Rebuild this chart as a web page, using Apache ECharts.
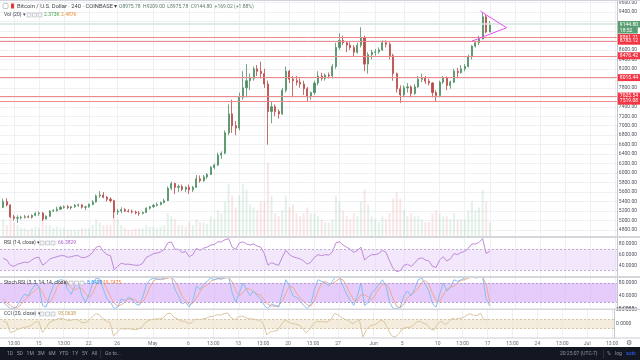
<!DOCTYPE html>
<html><head><meta charset="utf-8">
<script src="https://cdn.jsdelivr.net/npm/echarts@6/dist/echarts.min.js"></script>
<style>html,body{margin:0;padding:0;background:#fff}#c{width:640px;height:360px}</style>
</head><body><div id="c"></div>
<script>
// ---- data (12h candles, x = days since May 1) ----
const dayStart = -21, dayStep = 0.5;
const opens = [5280,5400,5330,5080,5050,5060,5070,5080,5070,5110,
5150,5160,5030,5090,5200,5210,5240,5280,5290,5270,
5290,5320,5330,5280,5290,5340,5390,5520,5540,5490,
5450,5420,5180,5200,5230,5200,5190,5180,5160,5150,
5170,5260,5290,5320,5340,5380,5420,5680,5780,5700,
5720,5660,5700,5650,5700,5880,5840,5920,5970,6120,
6170,6380,6420,6850,7250,7000,6950,7600,7800,7950,
8000,8200,8150,8100,7880,7300,7400,7300,7250,7750,
8150,7980,7950,7920,7880,7780,7620,7700,7900,8050,
8000,8070,8050,8250,8650,8800,8750,8700,8650,8550,
8700,8850,8300,8500,8550,8560,8600,8750,8720,8480,
8100,7780,7650,7800,7820,7680,7820,7980,8000,7940,
7900,7700,7640,7920,8000,7850,7920,8150,8120,8200,
8250,8450,8680,8750,8830,9300,8975.78];
const highs = [5460,5470,5340,5120,5110,5100,5120,5110,5130,5180,
5190,5180,5110,5220,5240,5290,5310,5320,5330,5310,
5350,5360,5350,5310,5360,5430,5550,5620,5600,5520,
5490,5440,5240,5280,5260,5240,5230,5210,5200,5190,
5280,5310,5350,5380,5400,5460,5720,5820,5800,5760,
5760,5720,5760,5730,5960,5950,5960,6000,6150,6200,
6430,6460,6900,7450,7550,7100,7700,8150,8300,8100,
8250,8280,8350,8200,7950,7500,7450,7350,7800,8250,
8180,8050,8050,8000,7950,7820,7720,7950,8150,8120,
8100,8120,8300,8750,8950,8900,8780,8760,8700,8750,
9080,8900,8550,8600,8620,8650,8800,8800,8760,8520,
8120,7850,7850,7900,7850,7880,8050,8100,8050,7990,
7920,7750,7950,8050,8040,7950,8200,8220,8280,8300,
8500,8700,8780,8900,9390,9340,9209];
const lows = [5260,5300,5050,5000,4950,5020,5040,5050,5040,5090,
5100,4990,5020,5080,5180,5190,5220,5250,5240,5230,
5270,5290,5250,5220,5270,5320,5380,5480,5470,5400,
5380,5050,5120,5150,5180,5170,5150,5130,5100,5130,
5160,5230,5270,5300,5320,5360,5410,5640,5560,5600,
5620,5600,5560,5600,5690,5800,5820,5880,5960,6080,
6150,6300,6400,6800,6850,6800,6900,7550,7600,7750,
7950,8050,8000,7800,6600,7050,7200,7150,7230,7700,
7900,7600,7850,7800,7650,7520,7550,7650,7850,7950,
7950,8000,8000,8200,8600,8700,8550,8600,8450,8520,
8650,8150,8100,8400,8480,8520,8580,8650,8400,7950,
7700,7480,7600,7700,7600,7650,7800,7920,7880,7850,
7600,7520,7600,7880,7750,7780,7900,8000,8100,8150,
8230,8400,8650,8700,8820,8950,8975.78];
const closes = [5400,5330,5080,5050,5060,5070,5080,5070,5110,5150,
5160,5030,5090,5200,5210,5240,5280,5290,5270,5290,
5320,5330,5280,5290,5340,5390,5520,5540,5490,5450,
5420,5180,5200,5230,5200,5190,5180,5160,5150,5170,
5260,5290,5320,5340,5380,5420,5680,5780,5700,5720,
5660,5700,5650,5700,5880,5840,5920,5970,6120,6170,
6380,6420,6850,7250,7000,6950,7600,7800,7950,8000,
8200,8150,8100,7880,7300,7400,7300,7250,7750,8150,
7980,7950,7920,7880,7780,7620,7700,7900,8050,8000,
8070,8050,8250,8650,8800,8750,8700,8650,8550,8700,
8850,8300,8500,8550,8560,8600,8750,8720,8480,8100,
7780,7650,7800,7820,7680,7820,7980,8000,7940,7900,
7700,7640,7920,8000,7850,7920,8150,8120,8200,8250,
8450,8680,8750,8830,9300,8975.78,9144.80];
const volumes = [6,4,8,5,4,3,3,2.5,3,3.5,
3,6,4,4,3,3.5,3,3,2.5,2.5,
2.5,2.5,3,3,3,4,6,5,4,4,
4,10,6,4,3,2.5,2.5,3,3,3,
4,3.5,3.5,3,3.5,4,8,7,6,4,
4,3.5,5,4,6,5,5,4.5,7,6,
9,8,12,18,14,10,14,18,16,11,
10,9,12,12,25,14,8,7,9,14,
10,11,8,7,8,10,8,8,7,6,
5,5,6,14,12,9,7,6,8,7,
12,16,11,7,6,5,7,6,8,13,
15,13,9,7,8,7,7,6,5,5,
8,9,8,7,7,6,8,6,6,6,
9,12,9,10,16,12,5];
const rsi = [53,50,40,38,42,44,46,45,50,54,
55,40,45,52,54,56,58,58,55,56,
58,58,54,55,58,64,74,76,66,60,
58,32,38,44,42,42,41,40,40,44,
55,58,62,63,65,70,82,84,70,70,
64,66,56,60,72,68,72,74,78,79,
84,84,88,90,74,70,82,84,80,78,
80,76,74,62,40,45,42,40,55,68,
60,56,54,52,48,42,46,55,60,58,
60,59,65,82,84,78,74,70,64,68,
74,50,56,60,60,62,68,64,48,34,
28,30,40,42,38,44,52,54,50,48,
38,36,50,56,48,52,62,60,64,66,
72,80,80,83,90,62,66.38];
const stochK = [20,10,0,0,10,30,45,40,60,75,
70,10,5,40,70,85,90,88,60,45,
70,80,40,20,45,80,95,92,60,30,
20,0,5,30,25,35,30,15,10,35,
75,90,95,92,90,95,100,98,60,40,
15,20,5,25,70,60,75,85,95,90,
95,92,98,100,50,20,50,80,60,40,
55,40,30,10,0,15,10,5,50,90,
70,40,35,25,10,0,15,60,90,85,
80,70,85,100,98,70,45,25,10,40,
80,10,20,50,60,75,90,70,20,0,
0,5,40,55,40,60,90,95,75,55,
15,5,45,80,55,65,90,85,90,95,
100,100,95,98,100,30,8.84];
const stochD = [30,18,10,3,3,13,28,38,48,58,
68,52,28,18,38,65,82,88,79,64,
58,65,63,47,35,48,73,89,82,61,
37,17,8,12,20,30,30,27,18,20,
40,67,87,92,92,92,95,98,86,66,
38,25,13,17,33,52,68,73,85,90,
93,92,95,97,83,57,40,50,63,60,
52,45,42,27,13,8,8,10,22,48,
70,67,48,33,23,12,8,25,55,78,
85,78,78,85,94,89,71,47,27,25,
43,43,37,27,43,62,75,78,60,30,
7,2,15,33,45,52,63,82,87,75,
48,25,22,43,60,67,70,80,88,90,
95,98,98,98,98,76,19.75];
const cci = [60,40,-180,-160,-120,-90,-70,-60,-20,40,
50,-180,-90,40,70,100,120,110,80,80,
100,90,30,30,80,150,220,200,110,60,
30,-260,-170,-100,-110,-100,-110,-120,-110,-60,
40,80,100,110,110,130,220,230,140,110,
60,60,10,30,110,90,110,120,160,160,
200,190,220,240,130,90,150,170,140,110,
110,90,80,10,-230,-170,-150,-140,-30,80,
50,10,0,-20,-80,-190,-120,-10,60,50,
50,40,90,230,200,140,100,70,10,40,
100,-280,-120,-40,-20,10,80,50,-100,-250,
-280,-220,-110,-70,-80,-40,40,60,20,-10,
-110,-130,10,60,-10,30,120,100,120,130,
180,220,190,180,230,90,95.06];
const levels = [8861.21, 8783.12, 8476.42, 8015.44, 7625.54, 7519.08];
const lastPrice = 9144.80;
const countdown = '18:52';
const triDays = [45.7, 49.35, 44.5];
const triPrices = [9417, 9067, 8785];
const timeTickDays = [-19.5,-16,-12.5,-9,-5,0,5,8.5,12,15.5,19,22.5,26,31,35,40,43.5,47,50.5,54,57.5,61,64.5];
const timeTickLabels = ['13:00','15','13:00','22','26','May','6','13:00','13','13:00','20','13:00','27','Jun','5','10','13:00','17','13:00','24','13:00','Jul','13:00'];
const priceGridTicks = [4800,5000,5200,5400,5600,5800,6000,6200,6400,6600,6800,7000,7200,7400,7600,7800,8000,8200,8400,8600,8800,9000,9200,9400,9600];
const priceLabelTicks = [4800,5000,5200,5400,5600,5800,6000,6200,6400,6600,6800,7000,7200,7400,7800,8200,8400,8600,9400,9600];
const rsiTicks = [80,60,40];
const stochTicks = [80,40,0];
const cciTicks = [300,0];
const rsiBand = [70,30];
const stochBand = [80,20];
const cciBand = [100,-100];

// ---- chart ----
const FONT = 'Roboto, "Noto Sans", sans-serif';
const days = opens.map((_, i) => dayStart + i * dayStep);
const X_MIN = -21.45, X_MAX = 64.76;
const UP = '#4f8f63', DOWN = '#b94a48';

function tLabel(v){
  let best = 0, bd = 1e9;
  timeTickDays.forEach((d,i)=>{ const dd=Math.abs(d-v); if(dd<bd){bd=dd;best=i;} });
  return timeTickLabels[best];
}
function xAxisFor(gi, show){
  return {type:'value', gridIndex:gi, min:X_MIN, max:X_MAX,
    axisLine:{show:false, onZero:false},
    axisTick:{show:false, customValues:timeTickDays},
    axisLabel: show ? {show:true, customValues:timeTickDays, formatter:tLabel, fontSize:5, color:'#6a6d78', margin:3, fontFamily:FONT} : {show:false},
    splitLine:{show:true, lineStyle:{color:'#eef0f4', width:1}}};
}
function yAxisFor(gi, min, max, ticks, dec, split){
  return {type:'value', gridIndex:gi, position:'right', min:min, max:max,
    axisLine:{show:true, onZero:false, lineStyle:{color:'#c3c6cd', width:1}},
    axisTick:{show:false, customValues: split || ticks},
    axisLabel:{show:true, customValues:ticks, formatter:v=>v.toFixed(dec), fontSize:5, color:'#50535e', margin:2, fontFamily:FONT},
    splitLine:{show: !!split, lineStyle:{color:'#eef0f4', width:1}}};
}
function band(vals, fill, lineColor){
  return {
    markArea:{silent:true, itemStyle:{color:fill}, data:[[{yAxis:vals[0]},{yAxis:vals[1]}]]},
    markLine:{silent:true, symbol:['none','none'], label:{show:false},
      lineStyle:{color:lineColor, type:[2,2], width:1}, data:[{yAxis:vals[0]},{yAxis:vals[1]}]}
  };
}
const lvlLabel = {show:true, position:'end', distance:1, formatter:p=>p.value.toFixed(2),
  color:'#fff', backgroundColor:'#f23645', fontSize:5, padding:[1,2,0.5,2], lineHeight:5.5, fontFamily:FONT};

const chart = echarts.init(document.getElementById('c'), null, {renderer:'canvas'});
const rsiB = band(rsiBand, 'rgba(233,212,250,0.55)', '#c2aed3');
const stB = band(stochBand, 'rgba(214,170,246,0.6)', '#b79ccf');
const cciB = band(cciBand, 'rgba(240,230,208,0.7)', '#d3c6ad');

chart.setOption({
  animation:false,
  backgroundColor:'#ffffff',
  grid:[
    {left:0, right:21, top:0, height:237},
    {left:0, right:21, top:237, height:40},
    {left:0, right:21, top:277, height:32},
    {left:0, right:21, top:309, height:29}
  ],
  xAxis:[xAxisFor(0,false), xAxisFor(1,false), xAxisFor(2,false), xAxisFor(3,true)],
  yAxis:[
    yAxisFor(0, 4652.6, 9642.1, priceLabelTicks, 2, priceGridTicks),
    {type:'value', gridIndex:0, min:0, max:80, show:false, axisLine:{show:false, onZero:false}},
    yAxisFor(1, 18, 93.1, rsiTicks, 4),
    yAxisFor(2, -1, 98.5, stochTicks, 4),
    yAxisFor(3, -300, 321.4, cciTicks, 4)
  ],
  series:[
    {type:'bar', xAxisIndex:0, yAxisIndex:1, barWidth:2, z:1,
      data: days.map((d,i)=>[d, volumes[i]]),
      itemStyle:{color:p=> closes[p.dataIndex] >= opens[p.dataIndex] ? 'rgba(120,185,140,0.2)' : 'rgba(230,130,130,0.2)'}},
    {type:'candlestick', xAxisIndex:0, yAxisIndex:0, barWidth:1.6, z:3,
      data: days.map((d,i)=>[d, opens[i], closes[i], lows[i], highs[i]]),
      itemStyle:{color:UP, color0:DOWN, borderColor:UP, borderColor0:DOWN, borderWidth:0.8}},
    {type:'line', xAxisIndex:0, yAxisIndex:0, z:2, symbol:'none', silent:true, data:[],
      markLine:{silent:true, symbol:['none','none'], z:5, animation:false,
        data: levels.map(v=>({yAxis:v, lineStyle:{color:'#ef8a8c', width:1, type:'solid'}, label:lvlLabel}))
          .concat([{yAxis:lastPrice, lineStyle:{color:'#d6e5dc', width:1.5, type:'solid'},
            label:{show:true, position:'end', distance:1, offset:[0,3.2],
              formatter:'{a|'+lastPrice.toFixed(2)+'}\n{b|'+countdown+'}',
              rich:{a:{color:'#fff', backgroundColor:'#5a9e72', fontSize:5, padding:[1,2,0.5,2], lineHeight:6, fontFamily:FONT},
                    b:{color:'#fff', backgroundColor:'#5a9e72', fontSize:5, padding:[1,5.5,0.5,2], lineHeight:6, fontFamily:FONT}}}}])
      }},
    {type:'line', xAxisIndex:0, yAxisIndex:0, z:6, symbol:'none',
      data: triDays.map((d,i)=>[d, triPrices[i]]),
      lineStyle:{color:'#e84ef0', width:1}},
    Object.assign({type:'line', xAxisIndex:1, yAxisIndex:2, symbol:'none', z:3,
      data: days.map((d,i)=>[d, rsi[i]]), lineStyle:{color:'#c08ad8', width:1}}, rsiB),
    Object.assign({type:'line', xAxisIndex:2, yAxisIndex:3, symbol:'none', z:3,
      data: days.map((d,i)=>[d, stochD[i]]), lineStyle:{color:'#f3a78a', width:1}}, stB),
    {type:'line', xAxisIndex:2, yAxisIndex:3, symbol:'none', z:4,
      data: days.map((d,i)=>[d, stochK[i]]), lineStyle:{color:'#86bdf0', width:1}},
    Object.assign({type:'line', xAxisIndex:3, yAxisIndex:4, symbol:'none', z:3,
      data: days.map((d,i)=>[d, cci[i]]), lineStyle:{color:'#dcc7a0', width:1}}, cciB)
  ],
  graphic:[
    {type:'rect', shape:{x:0,y:0,width:640,height:1}, style:{fill:'#d1d4dc'}, z:50},
    {type:'rect', shape:{x:0,y:236,width:640,height:2}, style:{fill:'#d4d6db'}, z:50},
    {type:'rect', shape:{x:0,y:276,width:640,height:2}, style:{fill:'#d4d6db'}, z:50},
    {type:'rect', shape:{x:0,y:308.5,width:640,height:1.5}, style:{fill:'#d4d6db'}, z:50},
    {type:'rect', shape:{x:0,y:337.5,width:640,height:1}, style:{fill:'#c9ccd3'}, z:50},
    // header
    {type:'rect', shape:{x:3,y:3.5,width:5,height:5,r:1}, style:{fill:'#fff', stroke:'#b2b5be', lineWidth:0.8}, z:50},
    {type:'rect', shape:{x:11,y:3.5,width:3,height:5}, style:{fill:'#e53935'}, z:50},
    {type:'text', x:17, y:6.3, z:50, style:{text:'Bitcoin / U.S. Dollar · 240 · COINBASE ▾', fontSize:5.8, fill:'#3b3e45', fontFamily:FONT, verticalAlign:'middle'}},
    {type:'text', x:119, y:6.3, z:50, style:{text:'O8975.78  H9209.00  L8975.78  C9144.80  +169.02 (+1.88%)', fontSize:5, fill:'#5d7a68', fontFamily:FONT, verticalAlign:'middle'}},
    {type:'text', x:4, y:15, z:50, style:{text:'Vol (20) ▾', fontSize:5, fill:'#3b3e45', fontFamily:FONT, verticalAlign:'middle'}},
    {type:'rect', shape:{x:27,y:13,width:4,height:4}, style:{fill:'#f4f4f6', stroke:'#b2b5be', lineWidth:0.6}, z:50},
    {type:'rect', shape:{x:32.5,y:13,width:4,height:4}, style:{fill:'#f4f4f6', stroke:'#b2b5be', lineWidth:0.6}, z:50},
    {type:'rect', shape:{x:38,y:13,width:4,height:4}, style:{fill:'#f4f4f6', stroke:'#b2b5be', lineWidth:0.6}, z:50},
    {type:'text', x:44, y:15, z:50, style:{text:'2.373K', fontSize:5, fill:'#43a047', fontFamily:FONT, verticalAlign:'middle'}},
    {type:'text', x:61, y:15, z:50, style:{text:'2.487K', fontSize:5, fill:'#f08c2a', fontFamily:FONT, verticalAlign:'middle'}},
    // RSI header
    {type:'text', x:4, y:243, z:50, style:{text:'RSI (14, close) ▾', fontSize:5, fill:'#3b3e45', fontFamily:FONT, verticalAlign:'middle'}},
    {type:'rect', shape:{x:40,y:241,width:4,height:4}, style:{fill:'#f4f4f6', stroke:'#b2b5be', lineWidth:0.6}, z:50},
    {type:'rect', shape:{x:45.5,y:241,width:4,height:4}, style:{fill:'#f4f4f6', stroke:'#b2b5be', lineWidth:0.6}, z:50},
    {type:'rect', shape:{x:51,y:241,width:4,height:4}, style:{fill:'#f4f4f6', stroke:'#b2b5be', lineWidth:0.6}, z:50},
    {type:'text', x:58, y:243, z:50, style:{text:'66.3829', fontSize:5, fill:'#a65cc8', fontFamily:FONT, verticalAlign:'middle'}},
    // Stoch header
    {type:'text', x:4, y:283, z:50, style:{text:'Stoch RSI (3, 3, 14, 14, close) ▾', fontSize:5, fill:'#3b3e45', fontFamily:FONT, verticalAlign:'middle'}},
    {type:'rect', shape:{x:69,y:281,width:4,height:4}, style:{fill:'#f4f4f6', stroke:'#b2b5be', lineWidth:0.6}, z:50},
    {type:'rect', shape:{x:74.5,y:281,width:4,height:4}, style:{fill:'#f4f4f6', stroke:'#b2b5be', lineWidth:0.6}, z:50},
    {type:'rect', shape:{x:80,y:281,width:4,height:4}, style:{fill:'#f4f4f6', stroke:'#b2b5be', lineWidth:0.6}, z:50},
    {type:'text', x:87, y:283, z:50, style:{text:'8.8400', fontSize:5, fill:'#2196f3', fontFamily:FONT, verticalAlign:'middle'}},
    {type:'text', x:103, y:283, z:50, style:{text:'19.7475', fontSize:5, fill:'#f57c3a', fontFamily:FONT, verticalAlign:'middle'}},
    // CCI header
    {type:'text', x:4, y:314, z:50, style:{text:'CCI (20, close) ▾', fontSize:5, fill:'#3b3e45', fontFamily:FONT, verticalAlign:'middle'}},
    {type:'rect', shape:{x:40,y:312,width:4,height:4}, style:{fill:'#f4f4f6', stroke:'#b2b5be', lineWidth:0.6}, z:50},
    {type:'rect', shape:{x:45.5,y:312,width:4,height:4}, style:{fill:'#f4f4f6', stroke:'#b2b5be', lineWidth:0.6}, z:50},
    {type:'rect', shape:{x:51,y:312,width:4,height:4}, style:{fill:'#f4f4f6', stroke:'#b2b5be', lineWidth:0.6}, z:50},
    {type:'text', x:58, y:314, z:50, style:{text:'95.0638', fontSize:5, fill:'#c49a55', fontFamily:FONT, verticalAlign:'middle'}},
    {type:'text', x:626, y:343, z:50, style:{text:'⚙', fontSize:7, fill:'#6a6d78', verticalAlign:'middle'}},
    // bottom toolbar
    {type:'rect', shape:{x:0,y:347,width:640,height:13}, style:{fill:'#131722'}, z:60},
    {type:'text', x:7, y:354, z:61, style:{text:'1D   5D   1M   3M   6M   YTD   1Y   5Y   All', fontSize:5, fill:'#9598a1', fontFamily:FONT, verticalAlign:'middle'}},
    {type:'rect', shape:{x:100,y:350,width:0.6,height:8}, style:{fill:'#434651'}, z:61},
    {type:'text', x:105, y:354, z:61, style:{text:'Go to...', fontSize:5, fill:'#9598a1', fontFamily:FONT, verticalAlign:'middle'}},
    {type:'text', x:560, y:354, z:61, style:{text:'20:25:07 (UTC-7)', fontSize:5, fill:'#9598a1', fontFamily:FONT, verticalAlign:'middle'}},
    {type:'rect', shape:{x:603,y:350,width:0.6,height:8}, style:{fill:'#434651'}, z:61},
    {type:'text', x:607, y:354, z:61, style:{text:'%', fontSize:5, fill:'#9598a1', fontFamily:FONT, verticalAlign:'middle'}},
    {type:'text', x:615, y:354, z:61, style:{text:'log', fontSize:5, fill:'#9598a1', fontFamily:FONT, verticalAlign:'middle'}},
    {type:'text', x:626, y:354, z:61, style:{text:'auto', fontSize:5, fill:'#2962ff', fontFamily:FONT, verticalAlign:'middle'}}
  ]
});
</script>
</body></html>
